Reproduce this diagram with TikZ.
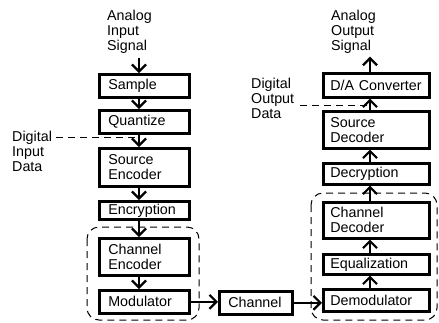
\documentclass[tikz,border=0pt]{standalone}
\usepackage{fontspec}
\setmainfont{Liberation Sans}
\usetikzlibrary{arrows.meta}
\begin{document}
\begin{tikzpicture}[x=1pt,y=-1pt,
  txt/.style={font=\fontsize{14.3pt}{15pt}\selectfont, inner sep=0pt, align=left, anchor=north west},
  bx/.style={draw, line width=2.6pt, font=\fontsize{14.3pt}{15pt}\selectfont, inner ysep=0pt, align=left, anchor=north west},
  bl/.style={bx, inner xsep=9pt, text width=72pt},
  br/.style={bx, inner xsep=7pt, text width=92pt},
  arr/.style={line width=2.2pt, -{Straight Barb[length=7pt,width=14pt]}},
  dsh/.style={line width=1pt, dash pattern=on 7pt off 5pt},
  grp/.style={line width=1pt, dash pattern=on 7pt off 5pt, rounded corners=12pt}]
\useasboundingbox (0,0) rectangle (439,322);
\coordinate (lx) at (139,0);
\coordinate (rx) at (370,0);
\coordinate (dj1) at (139,137);
\coordinate (dj2) at (370,105);
% groups
\draw[grp] (87,227) rectangle (199,320);
\draw[grp] (311,193) rectangle (437,320);
% labels
\node[txt] (ain) at (107,10) {Analog\\Input\\Signal};
\node[txt] (aout) at (331,10) {Analog\\Output\\Signal};
\node[txt] (din) at (12,131) {Digital\\Input\\Data};
\node[txt] (dout) at (251,78) {Digital\\Output\\Data};
% left column
\node[bl, minimum height=23pt] (smp) at (98,73) {Sample};
\node[bl, minimum height=23pt] (qnt) at (98,109) {Quantize};
\node[bl, minimum height=38pt] (senc) at (98,147) {Source\\Encoder};
\node[bl, minimum height=18pt] (enc) at (98,200) {Encryption};
\node[bl, minimum height=37pt] (cenc) at (98,237) {Channel\\Encoder};
\node[bl, minimum height=23pt] (mod) at (98,289) {Modulator};
% channel
\node[bx, inner xsep=9pt, text width=55pt, minimum height=23pt] (chan) at (218,290) {Channel};
% right column
\node[br, minimum height=24pt] (da) at (322,72) {D/A Converter};
\node[br, minimum height=37pt] (sdec) at (322,110) {Source\\Decoder};
\node[br, minimum height=21pt] (dec) at (322,162) {Decryption};
\node[br, minimum height=36pt] (cdec) at (322,201) {Channel\\Decoder};
\node[br, minimum height=20pt] (eq) at (322,253) {Equalization};
\node[br, minimum height=22pt] (dem) at (322,288) {Demodulator};
% left arrows
\draw[arr, shorten <=4pt] (ain.south -| lx) -- (smp.north -| lx);
\draw[arr] (smp.south -| lx) -- (qnt.north -| lx);
\draw[arr] (qnt.south -| lx) -- (senc.north -| lx);
\draw[arr] (senc.south -| lx) -- (enc.north -| lx);
\draw[arr] (enc.south -| lx) -- (cenc.north -| lx);
\draw[arr] (cenc.south -| lx) -- (mod.north -| lx);
% channel arrows
\draw[arr] (mod.east) -- (mod.east -| chan.west);
\draw[arr] (chan.east) -- (chan.east -| dem.west);
% right arrows
\draw[arr] (dem.north -| rx) -- (eq.south -| rx);
\draw[arr] (eq.north -| rx) -- (cdec.south -| rx);
\draw[arr] (cdec.north -| rx) -- (dec.south -| rx);
\draw[arr] (dec.north -| rx) -- (sdec.south -| rx);
\draw[arr] (sdec.north -| rx) -- (da.south -| rx);
\draw[arr, shorten >=3pt] (da.north -| rx) -- (aout.south -| rx);
% digital data dashed lines
\draw[dsh, shorten <=4pt] (din.east |- dj1) -- (dj1);
\draw[dsh, shorten <=6pt] (dout.east |- dj2) -- (dj2);
\end{tikzpicture}
\end{document}
